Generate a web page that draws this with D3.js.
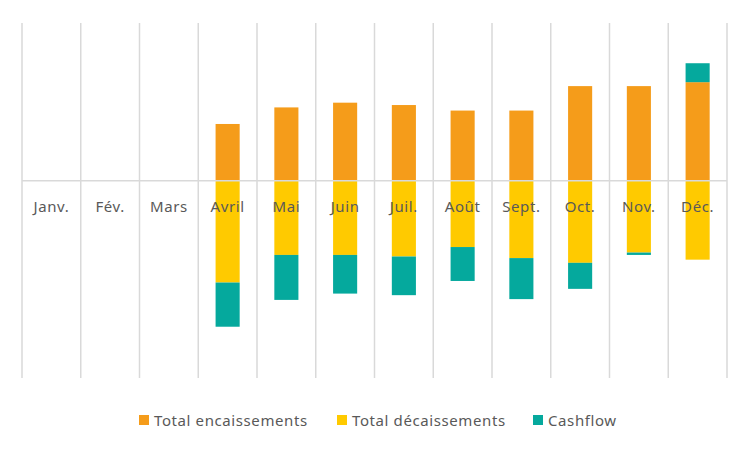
<!DOCTYPE html>
<html lang="fr">
<head>
    <meta charset="UTF-8">
    <script src="https://cdn.jsdelivr.net/npm/d3@7"></script>
    <title>Cashflow</title>
    <style>
        body { margin: 0; background: #fff; }
        text {
            font-family: "Noto Sans", sans-serif;
            font-size: 15px;
            letter-spacing: 0.6px;
            fill: #595959;
        }
    </style>
</head>
<body>
    <script>
        // données (en euros)
        const mois = ["Janv.", "Fév.", "Mars", "Avril", "Mai", "Juin", "Juil.", "Août", "Sept.", "Oct.", "Nov.", "Déc."]
        const encaissements = [0, 0, 0, 72000, 93000, 99000, 96000, 89000, 89000, 120000, 120000, 125000]
        const decaissements = [0, 0, 0, -129000, -94000, -94000, -96000, -84000, -98000, -104000, -91000, -100000]
        const cashflow = [0, 0, 0, -56000, -57000, -49000, -49000, -43000, -52000, -33000, -3000, 24000]

        const series = [
            {name: "Total encaissements", values: encaissements, color: "#F59C1A"},
            {name: "Total décaissements", values: decaissements, color: "#FFCA00"},
            {name: "Cashflow", values: cashflow, color: "#05A99D"}
        ]

        const width = 749, height = 450
        const margin = {top: 23, right: 22, bottom: 72, left: 22}

        const svg = d3.select("body").append("svg")
            .attr("width", width)
            .attr("height", height)

        const x = d3.scaleBand()
            .domain(mois)
            .range([margin.left, width - margin.right])
            .paddingInner(0)
            .paddingOuter(0)

        const y = d3.scaleLinear()
            .domain([-250000, 200000])
            .range([height - margin.bottom, margin.top])

        // lignes verticales entre les catégories
        const bounds = mois.map(m => x(m)).concat([x(mois[mois.length - 1]) + x.bandwidth()])
        svg.append("g").selectAll("line")
            .data(bounds)
            .join("line")
            .attr("x1", d => d).attr("x2", d => d)
            .attr("y1", y.range()[1]).attr("y2", y.range()[0])
            .attr("stroke", "#D9D9D9")
            .attr("stroke-width", 1.5)

        // empilement : positifs vers le haut, négatifs vers le bas
        const stacked = []
        mois.forEach((m, i) => {
            let pos = 0, neg = 0
            series.forEach(s => {
                const v = s.values[i]
                if (!v) return
                let y0, y1
                if (v >= 0) { y0 = pos; y1 = pos + v; pos = y1 }
                else { y0 = neg; y1 = neg + v; neg = y1 }
                stacked.push({mois: m, y0, y1, color: s.color})
            })
        })

        const barW = x.bandwidth() * 0.41
        svg.append("g").selectAll("rect")
            .data(stacked)
            .join("rect")
            .attr("x", d => x(d.mois) + (x.bandwidth() - barW) / 2)
            .attr("width", barW)
            .attr("y", d => y(Math.max(d.y0, d.y1)))
            .attr("height", d => Math.abs(y(d.y0) - y(d.y1)))
            .attr("fill", d => d.color)

        // axe horizontal
        svg.append("line")
            .attr("x1", x.range()[0]).attr("x2", x.range()[1])
            .attr("y1", y(0)).attr("y2", y(0))
            .attr("stroke", "#D9D9D9")
            .attr("stroke-width", 1.5)

        svg.append("g").selectAll("text")
            .data(mois)
            .join("text")
            .attr("x", d => x(d) + x.bandwidth() / 2)
            .attr("y", y(0) + 31)
            .attr("text-anchor", "middle")
            .text(d => d)

        // légende
        const legendX = [139, 337, 533]
        const legend = svg.append("g").selectAll("g")
            .data(series)
            .join("g")
            .attr("transform", (d, i) => `translate(${legendX[i]},420)`)
        legend.append("rect")
            .attr("x", 0).attr("y", -5)
            .attr("width", 10).attr("height", 10)
            .attr("fill", d => d.color)
        legend.append("text")
            .attr("x", 15)
            .attr("y", 5.5)
            .text(d => d.name)
    </script>
</body>
</html>
